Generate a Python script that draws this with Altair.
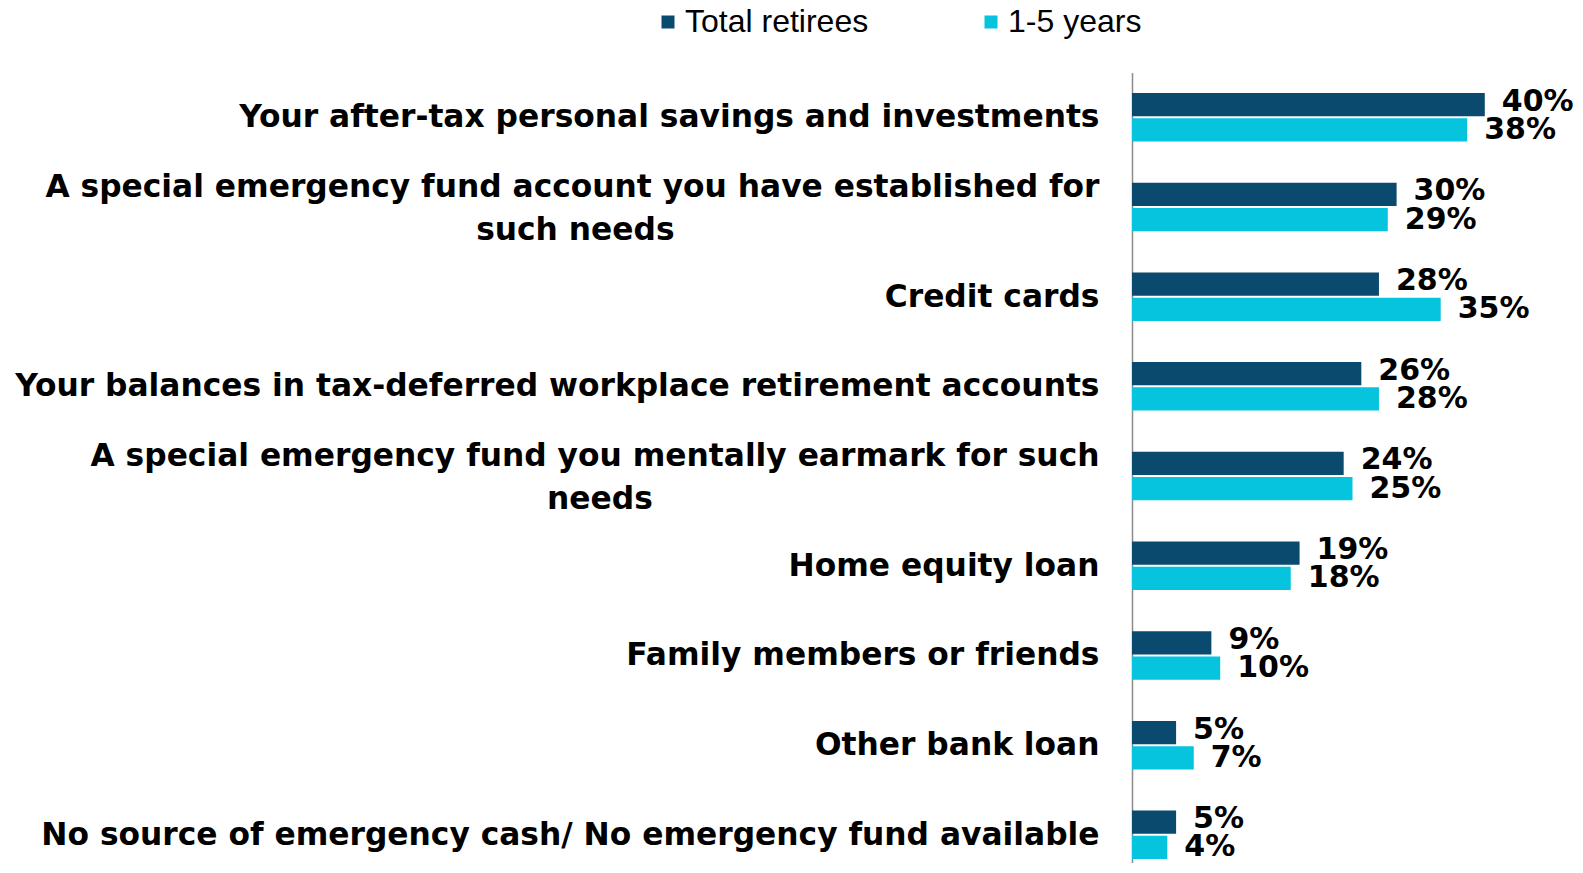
import altair as alt
import pandas as pd

# ---- data ----
label_lines = [
    ["Your after-tax personal savings and investments"],
    ["A special emergency fund account you have established for", "such needs"],
    ["Credit cards"],
    ["Your balances in tax-deferred workplace retirement accounts"],
    ["A special emergency fund you mentally earmark for such", "needs"],
    ["Home equity loan"],
    ["Family members or friends"],
    ["Other bank loan"],
    ["No source of emergency cash/ No emergency fund available"],
]
total_retirees = [40, 30, 28, 26, 24, 19, 9, 5, 5]
one_to_five = [38, 29, 35, 28, 25, 18, 10, 7, 4]
series_names = ["Total retirees", "1-5 years"]
series_colors = ["#0a4a6e", "#06c3de"]

# second lines are centred under the first line: pad with no-break spaces,
# closed by a zero-width space so the padding is not trimmed away
NBSP = "\u00a0"
ZWSP = "\u200b"
second_line_pad = {1: 39, 4: 41}
categories = []
for i, lines in enumerate(label_lines):
    if len(lines) > 1:
        lines = [lines[0], lines[1] + NBSP * second_line_pad.get(i, 0) + ZWSP]
    categories.append("|".join(lines))

rows = []
for c, a, b in zip(categories, total_retirees, one_to_five):
    rows.append({"category": c, "series": series_names[0], "value": a, "label": f"{a}%"})
    rows.append({"category": c, "series": series_names[1], "value": b, "label": f"{b}%"})
df = pd.DataFrame(rows)

BOLD_FONT = "DejaVu Sans"
LEGEND_FONT = "Liberation Sans"

PLOT_W = 441
PLOT_H = 792

y_enc = alt.Y(
    "category:N",
    sort=categories,
    scale=alt.Scale(paddingInner=0.459, paddingOuter=0.2295, range=[1.4, 808.7]),
    axis=alt.Axis(
        title=None,
        labelExpr="split(datum.label, '|')",
        labelFont=BOLD_FONT,
        labelFontSize=31.3,
        labelFontWeight="bold",
        labelColor="#000000",
        labelPadding=33,
        labelLimit=1300,
        labelLineHeight=43,
        labelOffset={"condition": {"test": "indexof(datum.value, '|') >= 0", "value": -19}, "value": 1},
        ticks=False,
        grid=False,
        domain=True,
        domainColor="#8c8c8c",
        domainWidth=1.5,
    ),
)
yoff = alt.YOffset("series:N", sort=series_names, scale=alt.Scale(paddingInner=0.08))
x_enc = alt.X("value:Q", scale=alt.Scale(domain=[0, 50]), axis=None)

bars = alt.Chart(df).mark_bar().encode(
    x=x_enc,
    y=y_enc,
    yOffset=yoff,
    color=alt.Color(
        "series:N",
        sort=series_names,
        scale=alt.Scale(domain=series_names, range=series_colors),
        legend=alt.Legend(
            title=None,
            orient="none",
            legendX=-480,
            legendY=-65,
            direction="horizontal",
            symbolType="square",
            symbolSize=169,
            symbolStrokeWidth=0,
            labelFont=LEGEND_FONT,
            labelFontSize=32,
            labelColor="#000000",
            labelLimit=400,
            labelOffset=1,
            columnPadding=106,
        ),
    ),
)


def value_labels(series, dy):
    return alt.Chart(df).transform_filter(
        alt.datum.series == series
    ).mark_text(
        align="left", baseline="middle", dx=17, dy=dy, font=BOLD_FONT, fontSize=30,
        fontWeight="bold", color="#000000"
    ).encode(
        x=x_enc,
        y=alt.Y("category:N", sort=categories),
        yOffset=yoff,
        text="label:N",
    )


chart = (
    alt.layer(bars, value_labels(series_names[0], -3), value_labels(series_names[1], 0))
    .properties(
        width=PLOT_W,
        height=PLOT_H,
        autosize=alt.AutoSizeParams(type="none"),
        padding={"left": 1124, "top": 63, "right": 2, "bottom": 0},
        background="white",
    )
    .configure_view(strokeWidth=0, stroke=None)
)

chart.save("out.html", embed_options={"renderer": "svg", "actions": False})
